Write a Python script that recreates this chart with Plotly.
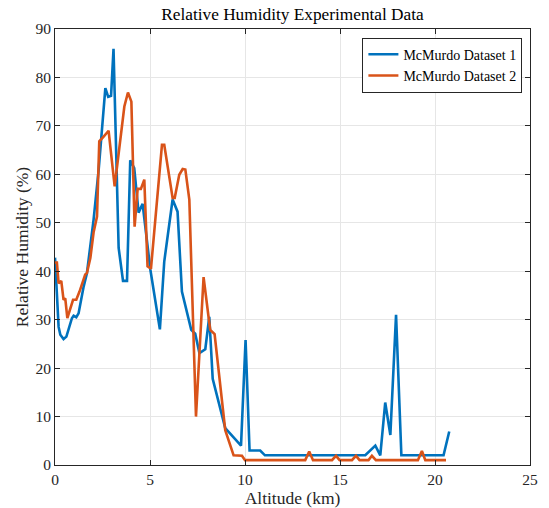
import plotly.graph_objects as go

alt1 = [0.0, 0.1, 0.19, 0.28, 0.45, 0.6, 0.8, 0.89, 0.98, 1.12, 1.24, 1.5, 1.68, 1.95, 2.03, 2.3,
        2.65, 2.8, 2.95, 3.08, 3.35, 3.58, 3.79, 3.96, 4.17, 4.4, 4.61, 5.02, 5.52, 5.75, 6.19,
        6.45, 6.68, 7.17, 7.38, 7.6, 7.91, 8.12, 8.3, 8.96, 9.79, 10.03, 10.24, 10.8, 11.05,
        16.33, 16.86, 17.12, 17.38, 17.65, 17.95, 18.23, 20.45, 20.75]
rh1 = [42.8, 36.2, 28.5, 26.9, 26.0, 26.5, 28.9, 30.3, 30.8, 30.5, 31.3, 36.7, 39.6, 48.6, 50.6, 61.0,
       77.8, 76.0, 76.2, 85.9, 44.8, 38.0, 38.0, 62.9, 61.3, 52.1, 53.9, 40.3, 28.0, 42.0, 54.8,
       52.3, 35.8, 27.9, 27.1, 23.1, 23.9, 30.6, 17.8, 7.6, 4.0, 25.8, 3.0, 3.0, 2.0,
       2.0, 4.0, 2.0, 12.9, 6.2, 31.0, 2.0, 2.0, 6.9]

alt2 = [0.0, 0.1, 0.19, 0.33, 0.45, 0.54, 0.65, 0.81, 0.95, 1.12, 1.29, 1.59, 1.68, 1.86, 2.03, 2.21,
        2.33, 2.56, 2.82, 3.14, 3.65, 3.84, 4.02, 4.19, 4.35, 4.52, 4.7, 4.87, 5.05, 5.63, 5.75,
        6.19, 6.3, 6.54, 6.72, 6.86, 7.0, 7.07, 7.42, 7.82, 8.08, 8.17, 8.4, 8.96, 9.4, 9.84, 10.0,
        13.17, 13.38, 13.58, 14.58, 14.79, 14.98, 15.63, 15.84, 16.03, 16.5, 16.68, 16.89,
        19.1, 19.31, 19.49, 20.58]
rh2 = [41.8, 41.8, 37.5, 38.0, 34.1, 34.4, 30.3, 32.4, 34.1, 34.1, 35.8, 39.3, 39.6, 42.7, 48.0, 51.3,
       66.8, 67.8, 69.0, 57.5, 74.0, 76.9, 75.0, 49.2, 57.0, 57.0, 58.9, 41.0, 40.5, 66.1, 66.1,
       55.1, 55.1, 59.9, 61.1, 61.0, 56.8, 54.8, 10.0, 38.8, 30.6, 27.9, 27.0, 7.2, 2.0, 1.9, 1.0,
       1.0, 2.8, 1.0, 1.0, 1.9, 1.0, 1.0, 1.9, 1.0, 1.0, 1.9, 1.0,
       1.0, 2.9, 1.0, 1.0]

names = ["McMurdo Dataset 1", "McMurdo Dataset 2"]
colors = ["#0072BD", "#D95319"]

FONT = "Liberation Serif"

fig = go.Figure()
for x, y, n, c in [(alt1, rh1, names[0], colors[0]), (alt2, rh2, names[1], colors[1])]:
    fig.add_trace(go.Scatter(x=x, y=y, mode="lines", name=n,
                             line=dict(color=c, width=2.6)))

axis_common = dict(showline=True, linecolor="#262626", linewidth=1, mirror="ticks",
                   ticks="inside", ticklen=5, tickcolor="#262626", automargin=False,
                   showgrid=True, gridcolor="#e6e6e6", gridwidth=1, zeroline=False,
                   tickfont=dict(family=FONT, size=15.5, color="#262626"))

fig.update_xaxes(range=[0, 25], dtick=5, tick0=0,
                 title=dict(text="Altitude (km)", font=dict(family=FONT, size=17.5, color="#262626"), standoff=2),
                 **axis_common)
fig.update_yaxes(range=[0, 90], dtick=10, tick0=0,
                 title=dict(text="Relative Humidity (%)", font=dict(family=FONT, size=17.5, color="#262626"), standoff=2),
                 **axis_common)

fig.update_layout(
    width=549, height=508,
    margin=dict(l=55, r=19, t=29, b=43),
    paper_bgcolor="white", plot_bgcolor="white",
    title=dict(text="Relative Humidity Experimental Data", xref="paper", x=0.5, xanchor="center",
               yref="container", y=0.985, yanchor="top",
               font=dict(family=FONT, size=17.3, color="black")),
    legend=dict(x=0.984, y=0.98, xanchor="right", yanchor="top",
                bgcolor="white", bordercolor="#262626", borderwidth=1,
                font=dict(family=FONT, size=14, color="black"),
                tracegroupgap=0, itemwidth=30),
    showlegend=True,
)

fig.write_html("out.html")
